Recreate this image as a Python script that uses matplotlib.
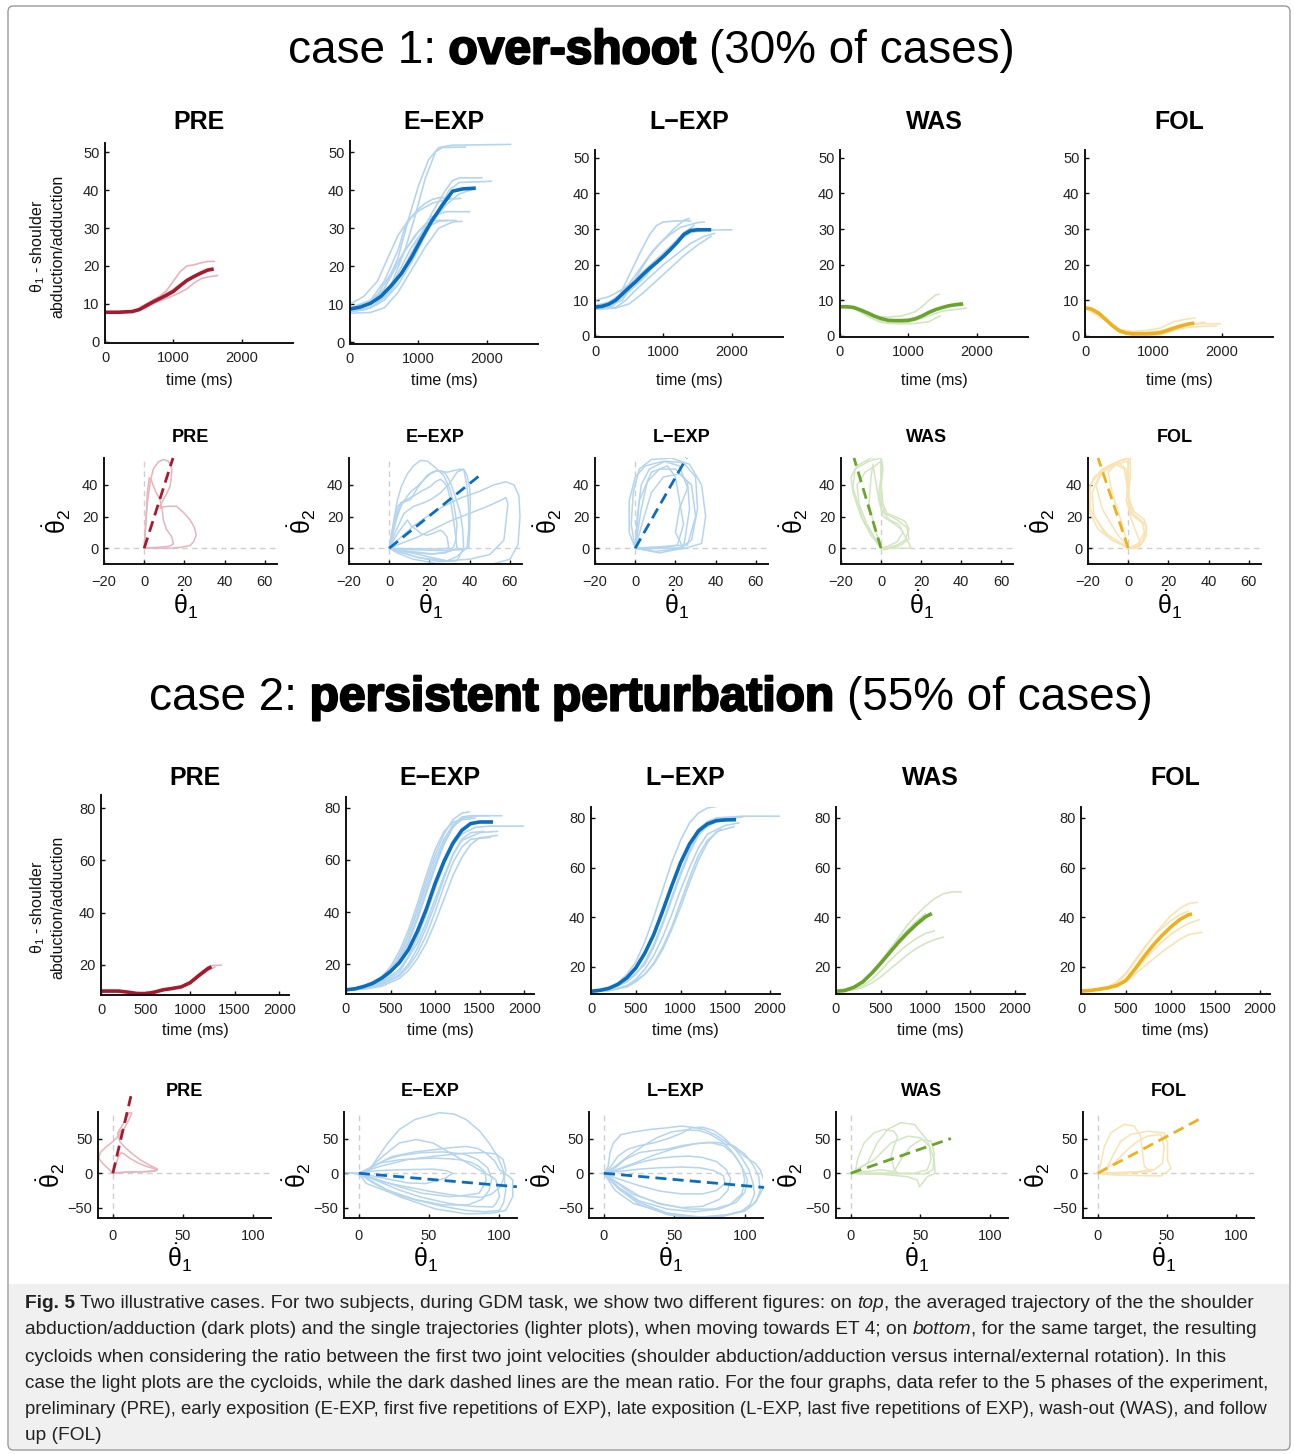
import matplotlib
matplotlib.use('Agg')
import matplotlib.pyplot as plt
from matplotlib.patches import FancyBboxPatch, Rectangle
import matplotlib.patheffects as pe

# ---------------------------------------------------------------- data
PHASES = ['PRE', 'E\u2212EXP', 'L\u2212EXP', 'WAS', 'FOL']
DARK = ['#a6192e', '#0a6ebd', '#0a6ebd', '#6aa42c', '#edb120']
LIGHT = ['#e8b4bc', '#b5d5ee', '#b5d5ee', '#d3e6c2', '#fae3b2']

# ---- case 1 : time courses (time ms, angle deg)
pre1_mean_t = [0, 200, 400, 500, 600, 700, 800, 900, 1000, 1100, 1200, 1300, 1400, 1500, 1590]
pre1_mean_y = [7.8, 7.8, 8.0, 8.5, 9.5, 10.5, 11.4, 12.3, 13.3, 14.8, 16.2, 17.2, 18.1, 18.9, 19.2]
pre1_light = [
    ([0, 400, 500, 600, 700, 800, 900, 1000, 1100, 1200, 1300, 1400, 1500, 1600],
     [7.8, 8.0, 8.8, 10.0, 11.0, 12.0, 13.5, 16.0, 18.5, 20.0, 20.3, 20.8, 21.2, 21.2]),
    ([0, 400, 500, 600, 700, 800, 900, 1000, 1100, 1200, 1300, 1400, 1500, 1650],
     [7.8, 8.0, 8.3, 9.0, 10.0, 10.8, 11.5, 12.2, 13.0, 14.0, 15.5, 16.6, 17.1, 17.5]),
    ([0, 400, 500, 600, 800, 1000, 1200, 1400, 1560],
     [7.8, 8.0, 8.6, 9.6, 11.8, 13.8, 16.4, 18.4, 19.3]),
]
eexp1_mean_t = [0, 150, 300, 450, 600, 750, 900, 1050, 1200, 1350, 1500, 1650, 1840]
eexp1_mean_y = [8.7, 9.2, 10.2, 12.0, 14.8, 18.0, 22.3, 27.3, 32.0, 36.0, 39.7, 40.3, 40.5]
eexp1_light = [
    ([0, 300, 500, 700, 850, 1000, 1150, 1300, 1500, 2350], [9, 10, 14, 22, 32, 41, 48, 51.2, 51.8, 52]),
    ([0, 200, 400, 600, 800, 950, 1100, 1250, 1350, 1690], [8.5, 9.5, 11, 15, 24, 33, 43, 50, 51.2, 51.3]),
    ([0, 200, 400, 600, 800, 1000, 1200, 1400, 1500, 1600, 1930], [8, 8.5, 10, 14, 20, 27, 34, 40, 42.5, 43.2, 43.2]),
    ([0, 300, 500, 700, 900, 1100, 1300, 1450, 1600, 2070], [8, 9, 11, 15, 21, 28, 35, 40, 42, 42.3]),
    ([0, 200, 400, 550, 700, 850, 1000, 1200, 1400, 1620], [10, 12, 16, 22, 28, 32, 34.5, 36.5, 37.5, 37.8]),
    ([0, 200, 400, 600, 800, 1000, 1200, 1400, 1750], [8.5, 9.5, 12.5, 18, 24, 29, 33, 34.3, 34.3]),
    ([0, 300, 500, 700, 900, 1100, 1300, 1425], [8, 9, 12, 18, 25, 30, 31.8, 32]),
    ([0, 300, 500, 700, 900, 1100, 1300, 1500, 1640], [7.6, 7.8, 9, 13, 19, 25, 30, 31.6, 31.8]),
    ([0, 300, 500, 700, 800, 900, 1000, 1100, 1200, 1300, 1500], [9, 11, 16, 24, 30, 33, 35, 36.5, 37.5, 38, 37.8]),
    ([0, 200, 400, 600, 800, 1000, 1200, 1400, 1600, 1800], [8.2, 8.5, 10, 13.5, 19, 25.5, 31.5, 36, 39, 40.2]),
    ([0, 300, 500, 650, 800, 950, 1100, 1250, 1400, 1550], [8.8, 10.5, 14, 19, 24, 28, 31, 32, 32, 32]),
]
lexp1_mean_t = [0, 100, 200, 300, 400, 500, 600, 700, 800, 900, 1000, 1100, 1200, 1300, 1400, 1500, 1700]
lexp1_mean_y = [8.1, 8.3, 8.9, 10.0, 11.8, 13.6, 15.3, 17.2, 19.0, 20.6, 22.3, 24.2, 26.2, 28.5, 29.6, 29.8, 29.8]
lexp1_light = [
    ([0, 200, 350, 500, 650, 800, 900, 1000, 1200, 1400], [8, 9, 11, 17, 23, 28.5, 31, 32, 32.3, 32.3]),
    ([0, 200, 400, 550, 700, 850, 1000, 1150, 1300, 1380], [8.5, 9.5, 12, 16, 20, 24, 27, 30, 32.5, 33]),
    ([0, 200, 400, 600, 800, 1000, 1200, 1400, 1600, 2000], [10, 11, 13, 16, 19.5, 23, 26.5, 29, 29.7, 29.8]),
    ([0, 300, 450, 600, 800, 1000, 1200, 1400, 1600, 1750], [7.5, 8, 10, 13, 16.5, 20, 23, 26, 28, 28.8]),
    ([0, 300, 500, 700, 900, 1100, 1300, 1500, 1700], [7.5, 7.8, 9, 12, 15.5, 19, 22.5, 25.5, 28]),
    ([0, 200, 400, 500, 650, 800, 950, 1100, 1250, 1500, 1600], [8, 8.5, 10, 13, 18, 22.5, 26, 28.5, 30.5, 31.8, 32]),
    ([0, 250, 400, 550, 700, 900, 1100, 1300, 1500], [7.8, 8.2, 11, 15, 18, 21.5, 25, 28.5, 30.2]),
    ([0, 300, 500, 700, 900, 1100, 1300, 1450], [8.3, 9.5, 12.5, 16, 20.5, 25, 29, 31]),
]
was1_mean_t = [0, 100, 200, 300, 400, 500, 600, 700, 800, 900, 1000, 1100, 1200, 1300, 1400, 1500, 1600, 1700, 1800]
was1_mean_y = [8.2, 8.2, 8.0, 7.3, 6.5, 5.6, 4.9, 4.4, 4.3, 4.3, 4.4, 4.8, 5.6, 6.6, 7.4, 8.0, 8.5, 8.8, 9.0]
was1_light = [
    ([0, 200, 300, 500, 700, 900, 1100, 1200, 1300, 1400, 1450], [8.2, 7.8, 7, 5.4, 5.3, 5.6, 6.8, 8.2, 10, 11.5, 11.7]),
    ([0, 200, 300, 500, 700, 900, 1100, 1300, 1400, 1470], [8.2, 7.6, 6.8, 4.8, 3.5, 3.4, 3.5, 4, 5, 5.6]),
    ([0, 200, 400, 600, 800, 1000, 1200, 1500, 1850], [8.2, 7.8, 5.5, 3.8, 3.6, 3.8, 5, 7, 7.8]),
    ([0, 200, 400, 600, 800, 1000, 1200, 1400, 1600, 1800], [8.0, 7.9, 6.2, 4.6, 4.2, 4.5, 5.8, 7.4, 8.3, 8.6]),
]
fol1_mean_t = [0, 100, 200, 300, 400, 500, 600, 700, 800, 900, 1000, 1100, 1200, 1300, 1400, 1500, 1600]
fol1_mean_y = [7.9, 7.5, 6.4, 4.7, 2.9, 1.5, 0.8, 0.6, 0.6, 0.6, 0.7, 0.9, 1.5, 2.2, 2.8, 3.3, 3.6]
fol1_light = [
    ([0, 300, 500, 700, 900, 1100, 1300, 1500, 1610], [7.9, 4.8, 1.8, 1.3, 1.5, 2.2, 4, 4.8, 5]),
    ([0, 300, 500, 700, 900, 1100, 1300, 1500, 1700, 1980], [7.9, 4.5, 1.4, 0.9, 1.0, 1.4, 2.5, 3.2, 3.4, 3.4]),
    ([0, 300, 500, 700, 900, 1100, 1300, 1500, 1700, 1920], [7.9, 4.3, 1.0, 0.3, 0.2, 0.6, 1.6, 2.4, 2.7, 2.8]),
    ([0, 300, 500, 700, 900, 1100, 1300, 1500, 1750], [7.9, 4.6, 1.2, 0.1, 0.0, 0.3, 1.5, 3.0, 3.9]),
]

# ---- case 2 : time courses
pre2_mean_t = [0, 100, 200, 300, 400, 500, 600, 700, 800, 900, 1000, 1100, 1200, 1240]
pre2_mean_y = [10.0, 10.0, 10.0, 9.6, 9.1, 9.0, 9.6, 10.5, 11.0, 11.6, 13.2, 16.0, 18.6, 19.3]
pre2_light = [
    ([0, 200, 400, 600, 700, 800, 900, 1000, 1100, 1200, 1250, 1350], [10, 10, 9.2, 9.8, 10.6, 11.2, 11.6, 13.5, 16.5, 19.2, 19.8, 19.9]),
    ([0, 200, 400, 600, 800, 900, 1000, 1100, 1200, 1280], [10.2, 10.1, 9.0, 9.6, 11.0, 11.8, 13.0, 15.5, 18.0, 19.2]),
]
eexp2_mean_t = [0, 100, 200, 300, 400, 500, 600, 700, 800, 900, 1000, 1100, 1200, 1300, 1400, 1500, 1650]
eexp2_mean_y = [10.1, 10.5, 11.4, 12.6, 14.6, 17.2, 20.6, 25.5, 32.5, 41.0, 51.0, 59.5, 66.5, 71.4, 74.0, 74.6, 74.6]
eexp2_light = [
    ([0, 200, 400, 500, 600, 700, 800, 900, 1000, 1100, 1200, 1300, 1380], [10, 11, 14, 17.5, 23, 31, 41, 52, 62, 70, 75.5, 78, 78.5]),
    ([0, 200, 400, 500, 600, 700, 800, 900, 1000, 1100, 1200, 1300, 1400, 1600], [10, 11.2, 14.5, 18, 23.5, 31, 40, 50, 60, 68, 73.5, 76.5, 77, 77]),
    ([0, 200, 400, 500, 600, 700, 800, 900, 1000, 1100, 1200, 1300, 1500, 1750], [10, 11, 13.5, 16.5, 21, 28, 37, 47, 57, 66, 72.5, 76, 77, 77]),
    ([0, 200, 400, 600, 700, 800, 900, 1000, 1100, 1200, 1300, 1450, 1600, 1990], [10, 10.8, 13, 18, 23, 30, 39, 49, 58, 65.5, 70, 72.5, 73, 73]),
    ([0, 200, 400, 600, 700, 800, 900, 1000, 1100, 1200, 1300, 1500, 1700], [10, 10.5, 12, 16, 20, 26, 34, 43, 53, 62, 67.5, 70.5, 71]),
    ([0, 200, 400, 600, 700, 800, 900, 1000, 1100, 1200, 1300, 1400, 1620], [10, 10.5, 12, 15.5, 19, 24, 31, 40, 50, 59, 65, 68, 68.7]),
    ([0, 200, 400, 500, 600, 700, 800, 900, 1000, 1100, 1200, 1300], [10, 11.5, 15, 19, 25, 33, 43, 54, 64, 71, 74.5, 75.7]),
    ([0, 200, 400, 500, 600, 700, 800, 900, 1000, 1100, 1200, 1300, 1450], [10, 11, 14, 17, 22, 29, 38, 48, 58, 67, 73, 75.5, 76]),
    ([0, 200, 400, 600, 800, 900, 1000, 1100, 1200, 1300, 1400, 1550], [10, 10.6, 12.5, 17, 28, 36, 45, 54, 62, 68, 70.5, 71]),
    ([0, 200, 400, 600, 700, 800, 900, 1000, 1100, 1200, 1300, 1400, 1500, 1700], [10, 10.3, 11.5, 14.5, 17.5, 22, 28, 36, 45, 54, 61, 66, 68.5, 69.5]),
]
lexp2_mean_t = [0, 100, 200, 300, 400, 500, 600, 700, 800, 900, 1000, 1100, 1200, 1300, 1400, 1500, 1620]
lexp2_mean_y = [10.2, 10.6, 11.4, 13.0, 15.6, 19.6, 25.5, 33.0, 42.5, 52.5, 62.0, 69.5, 74.8, 77.6, 78.9, 79.2, 79.3]
lexp2_light = [
    ([0, 200, 300, 400, 500, 600, 700, 800, 900, 1000, 1100, 1200, 1300, 1460], [10, 11.5, 13.5, 17, 22, 30, 40, 51, 62, 71, 78, 82, 84, 85]),
    ([0, 200, 300, 400, 500, 600, 700, 800, 900, 1000, 1100, 1200, 1300, 1400, 1700, 2130], [10, 11, 12.5, 15, 19, 25, 33, 43, 53, 62, 70, 75.5, 78.5, 80, 80.7, 80.7]),
    ([0, 200, 400, 500, 600, 700, 800, 900, 1000, 1100, 1200, 1300, 1500, 1700], [10, 11, 14, 17, 22, 29, 38, 48, 58, 67, 73.5, 77.5, 79.5, 80.5]),
    ([0, 200, 400, 500, 600, 700, 800, 900, 1000, 1100, 1200, 1300, 1500, 1650], [10, 10.5, 12.5, 15, 19, 24.5, 32, 41, 51, 60, 68, 73.5, 77, 78]),
    ([0, 200, 400, 500, 600, 700, 800, 900, 1000, 1100, 1200, 1300, 1450], [10, 10.5, 12, 14, 17, 21.5, 28, 36, 46, 56, 65, 71, 75.5]),
    ([0, 200, 400, 600, 700, 800, 900, 1000, 1100, 1200, 1300, 1400, 1500], [10, 11, 14, 21, 28, 37, 47, 57, 66, 73, 77, 79, 80]),
    ([0, 200, 400, 600, 700, 800, 900, 1000, 1100, 1200, 1300, 1400, 1600], [10, 10.5, 12, 17, 21, 27, 35, 44, 54, 63, 70, 74.5, 76.5]),
    ([0, 200, 400, 500, 600, 700, 800, 900, 1000, 1100, 1200, 1400, 1600], [10, 11.5, 15.5, 19.5, 25.5, 33, 42, 52, 61.5, 69, 74.5, 78.5, 79.5]),
]
was2_mean_t = [0, 100, 200, 300, 400, 500, 600, 700, 800, 900, 1000, 1070]
was2_mean_y = [10.2, 10.5, 11.8, 14.0, 17.5, 21.5, 25.8, 30.0, 33.8, 37.2, 40.2, 41.5]
was2_light = [
    ([0, 200, 300, 400, 500, 600, 700, 800, 900, 1000, 1100, 1200, 1300, 1400], [10.2, 11.5, 14, 17.5, 22, 27, 32, 37, 41, 44.5, 47.5, 49.5, 50.2, 50.2]),
    ([0, 200, 300, 400, 500, 600, 700, 800, 900, 1000, 1100], [10.2, 11, 12.5, 15, 18.5, 22.5, 26, 29, 31.5, 33.5, 34.5]),
    ([0, 200, 300, 400, 500, 600, 700, 800, 900, 1000, 1100, 1200], [10.2, 10.8, 11.8, 13.5, 16, 19, 22, 25, 27.5, 29.5, 31, 32]),
    ([0, 200, 300, 400, 500, 600, 700, 800, 900, 1000], [10.2, 12, 14.5, 18, 22.5, 27, 31, 35, 38.5, 41.5]),
]
fol2_mean_t = [0, 100, 200, 300, 400, 500, 600, 700, 800, 900, 1000, 1100, 1200, 1240]
fol2_mean_y = [10.3, 10.5, 11.0, 11.6, 12.5, 14.5, 19.0, 24.0, 28.5, 32.5, 36.0, 39.0, 41.0, 41.3]
fol2_light = [
    ([0, 200, 300, 400, 500, 600, 700, 800, 900, 1000, 1100, 1200, 1300], [10.3, 11, 11.8, 13.5, 17, 22, 27, 32, 36.5, 40.5, 43.5, 45.5, 46]),
    ([0, 200, 300, 400, 500, 600, 700, 800, 900, 1000, 1100, 1200, 1320], [10.3, 10.8, 11.3, 12.5, 15, 18.5, 22.5, 26.5, 30, 33, 35.5, 37.5, 39]),
    ([0, 200, 300, 400, 500, 600, 700, 800, 900, 1000, 1100, 1200, 1350], [10.3, 10.8, 11.2, 12.2, 14, 17, 20, 23, 26, 28.5, 31, 33, 34]),
    ([0, 200, 300, 400, 500, 600, 700, 800, 900, 1000, 1100, 1200], [10.3, 11, 12, 14, 17.5, 22.5, 27.5, 32, 35.5, 38.5, 41, 42.5]),
]

# ---- case 1 : cycloids (theta1_dot, theta2_dot) and mean-ratio line end
pre1_loops = [
    ([0, 0.5, 1.5, 3, 4.5, 7, 9.5, 12, 13.7, 13.5, 12.8, 11, 9.5, 8, 7.8, 9, 12, 16, 20, 22.8, 25, 25.8, 24.5, 22.8, 18, 12.8, 6, 0],
     [0, 12, 28, 42, 50, 54.5, 56, 55, 50, 45, 39, 34, 30.7, 27, 25, 26, 26.5, 26.5, 22, 17.8, 13, 8.2, 4, 1.7, 0.5, 0, 0, 0]),
    ([0, 0.8, 1.5, 2.5, 3.5, 4.5, 6, 7.8, 9, 9.5, 11, 13.7, 14.5, 13, 11, 6, 0],
     [0, 15, 35, 44.5, 43, 39.4, 35, 30.7, 24, 17.8, 12, 7.1, 2.8, 1.5, 1, 0.5, 0]),
]
pre1_ratio = (14.3, 57)
eexp1_loops = [
    ([0, 5, 12, 20, 27, 36, 45, 52, 58, 62, 64.5, 65, 64, 60, 50, 38, 25, 12, 4, 0],
     [0, 6, 14, 21, 26.5, 32, 36, 40, 42, 40, 33, 20, 2, -7, -10.5, -11.5, -10, -7, -3, 0]),
    ([0, 6, 14, 22, 30, 40, 48, 55, 58, 59, 57, 50, 40, 28, 15, 5, 0],
     [0, 3, 7, 12, 17, 22, 26, 30, 32, 28, 5, -4, -7, -8, -6, -2.5, 0]),
    ([0, 1, 2.3, 4, 6, 9, 12, 15.5, 19, 22, 27, 30, 32, 33.7, 33, 32, 28, 20, 10, 3, 0],
     [0, 8, 17.8, 30, 39, 47, 52, 55.5, 55, 52, 46, 38, 28.6, 15, 5, 0.6, -3, -3.7, -2.5, -1, 0]),
    ([0, 2, 4, 7, 10.6, 14, 18.8, 22, 25.5, 28, 30.4, 33, 35.4, 36.5, 37, 35, 33.7, 25, 13.9, 5, 0],
     [0, 12, 26.5, 29, 30.7, 38, 46, 48.5, 49, 47, 41.5, 32, 22, 12, 0.6, -5, -8, -8.5, -5.8, -2, 0]),
    ([0, 3, 7.3, 12.2, 17, 21, 25.5, 30, 33.7, 37, 38.7, 39.5, 39.5, 38.7, 34, 28.8, 18, 5.6, 0],
     [0, 10, 22, 26.5, 28.6, 31, 35, 41, 48, 50, 39, 25, 11.4, 0.6, -5, -8, -5, -1.5, 0]),
    ([0, 4, 9, 11, 13.9, 16, 18.8, 22, 25.5, 27, 28.8, 29.6, 25, 18.8, 8, 0],
     [0, 9, 17.8, 14, 11.4, 9, 8.2, 9.5, 11.4, 10, 7, 0, -0.5, -0.4, -0.3, 0]),
    ([0, 2, 5.6, 9, 12.2, 16, 20.5, 23, 25.5, 27, 28.8, 30.5, 32, 33, 33.7, 30, 22, 10, 0],
     [0, 14, 28.6, 31, 33, 36, 39, 42, 43.6, 42, 39, 30, 17.8, 8, 0, -2, -3.7, -2, 0]),
    ([0, 2, 4, 6, 9, 11, 13.9, 17, 20.5, 23.8, 26, 28.8, 32, 35.4, 37.5, 38.7, 40, 40.3, 40, 39.5, 35, 25.5, 12, 0],
     [0, 10, 20, 27, 33, 36, 39, 43, 47, 49, 48.6, 48, 49, 50, 49, 46, 38, 28.6, 12, 0, -1, -1.5, -1, 0]),
]
eexp1_ratio = (45, 46)
lexp1_loops = [
    ([0, -2, -1, 2, 8, 18, 27, 33, 35, 33, 25, 10, 0], [0, 15, 35, 50, 56, 57, 53, 40, 20, 3, 0, -2, 0]),
    ([0, 1, 3, 7, 15, 24, 30, 31, 28, 22, 0], [0, 20, 40, 50, 55, 54, 45, 25, 5, 0, 0]),
    ([0, 3, 6, 12, 20, 26, 27, 25, 24, 12, 0], [0, 25, 42, 50, 50, 42, 25, 8, 0, -3, 0]),
    ([0, -3, -3, 0, 5, 14, 22, 26, 22, 20, 24, 0], [0, 10, 30, 45, 52, 55, 52, 38, 25, 10, 0, 0]),
    ([0, 4, 8, 14, 22, 28, 30, 26, 0], [0, 18, 35, 45, 47, 40, 20, 2, 0]),
    ([0, 2, 8, 16, 20, 22, 24, 21, 5, 0], [0, 30, 48, 52, 45, 30, 15, 2, -1, 0]),
]
lexp1_ratio = (25.5, 57)
was1_loops = [
    ([0, -5, -10, -14, -15, -12, -5, 0, 1, 0, 1, 3, 7, 12, 14, 12, 8, 3, 0],
     [0, 8, 20, 35, 45, 52, 57, 58, 50, 40, 28, 22, 20, 17, 12, 5, 2, 0, 0]),
    ([0, -7, -11, -12, -8, -3, 0, 0, -1, 0, 4, 9, 11, 8, 3, 0],
     [0, 15, 28, 40, 48, 52, 55, 45, 35, 25, 18, 15, 10, 4, 1, 0]),
    ([0, -3, -6, -5, -4, -3, -1, 1, 6, 10, 14, 15, 5, 0],
     [0, 12, 28, 45, 53, 45, 30, 20, 16, 12, 3, 0, 0, 0]),
    ([0, -9, -14, -13, -6, 0, 0, 0, 2, 8, 13, 14, 10, 2, 0],
     [0, 18, 38, 50, 55, 57, 48, 30, 22, 18, 13, 6, 2, -1, 0]),
]
was1_ratio = (-13.5, 57)
fol1_loops = [
    ([0, -8, -15, -19, -20, -17, -10, -3, 0, 0, -1, 1, 5, 9, 9, 6, 3, 0],
     [0, 5, 12, 22, 35, 45, 52, 56, 57, 45, 30, 22, 18, 15, 8, 2, 0, 0]),
    ([0, -10, -17, -18, -14, -6, 0, 0, 0, 3, 7, 8, 5, 0],
     [0, 8, 20, 35, 47, 53, 55, 42, 28, 20, 16, 10, 3, 0]),
    ([0, -6, -13, -16, -12, -5, -1, 0, 2, 6, 9, 8, 5, 0],
     [0, 10, 25, 40, 50, 54, 50, 35, 22, 18, 14, 5, 0, 0]),
    ([0, -12, -19, -19, -13, -4, 1, 1, 0, 3, 8, 9, 7, 3, 0],
     [0, 10, 25, 40, 50, 55, 57, 45, 32, 23, 18, 12, 4, 0, 0]),
    ([0, -3, -8, -10, -6, -2, 0, 1, 4, 6, 2, 0],
     [0, 15, 35, 48, 53, 50, 35, 20, 10, 3, 0, 0]),
]
fol1_ratio = (-15, 57)

# ---- case 2 : cycloids
pre2_loops = [
    ([0, -4, -8, -10, -9, -5, 0, 5, 9, 12, 13.5, 12.5, 10.5, 8, 5, 3.5, 5, 7, 6, 3.5, 5, 9, 14, 20, 26, 30, 32, 31, 26, 18, 10, 4, 0],
     [0, 8, 16, 22, 30, 38, 46, 56, 68, 80, 87, 89, 84, 74, 64, 58, 54, 58, 62, 58, 46, 37, 28, 19, 12, 8, 6, 3.5, 2.5, 2, 1.5, 1, 0]),
    ([0, 2, 4, 6, 8, 12, 18, 24, 29, 31, 30, 24, 16, 8, 3, 0],
     [0, 12, 24, 30, 28, 22, 15, 10, 7, 5.5, 3.5, 2.5, 2, 1.5, 0.5, 0]),
]
pre2_ratio = (12.9, 112)
eexp2_loops = [
    ([-10, -5, 0, 5, 7.6, 12.4, 20, 29, 40, 57.6, 68, 76.7, 86, 93, 99, 103, 105, 103.5, 100.5, 90, 76.7, 60, 41, 25, 12, 5.2, 0],
     [1, 0.5, 0, 3, 5, 19.6, 42, 63.7, 78, 88, 86, 78, 62, 44, 25, 5, -24.5, -42, -54, -56, -54, -48, -39, -30, -20, -14.7, 0]),
    ([0, 8, 17, 29, 41, 53, 69.5, 86, 95, 98, 100.5, 98, 95.7, 80, 64.8, 45, 29, 12, 0],
     [0, 8, 24.5, 44, 49, 44, 24.5, 5, -5, -10, -34, -44, -49, -48, -44, -35, -24.5, -10, 0]),
    ([0, 10, 24, 40, 53, 65, 76.7, 85, 91, 97, 100.5, 107, 110, 110, 107, 105, 95, 76.7, 55, 29, 10, 0],
     [0, 9.8, 24.5, 31, 34, 37, 39, 36, 29, 18, 5, -4, -10, -34, -46, -54, -58, -59, -52, -34, -14, 0]),
    ([0, 7, 14.8, 29, 41, 53, 65, 71.9, 80, 86, 90, 91, 88, 86, 76, 64.8, 45, 29, 12, 0],
     [0, 6, 14.7, 19.6, 21, 22, 21, 19.6, 16, 9.8, 2, -10, -22, -29, -32, -34, -29, -19.6, -8, 0]),
    ([0, 5, 15, 29, 41, 53, 62, 67, 64, 62, 55, 48, 35, 20, 0],
     [0, 2.5, 4, 5, 5.5, 6, 4, 0, -4, -7, -11, -15, -14, -8, 0]),
    ([-10, -5, 0, 10, 20, 35, 50, 65, 78, 88, 95, 101, 104, 105, 103, 98, 90, 75, 55, 35, 15, 0],
     [1, 0.5, -2, -8, -14, -20, -26, -31, -34, -35, -30, -20, -5, 5, 20, 28, 30, 29, 25, 20, 10, 0]),
    ([0, 6, 12, 20, 30, 45, 60, 75, 85, 92, 95, 93, 88, 78, 60, 40, 20, 8, 0],
     [0, 4, 12, 20, 26, 30, 31, 28, 20, 8, -8, -25, -38, -46, -46, -38, -24, -10, 0]),
]
eexp2_ratio = (112.9, -19.6)
lexp2_loops = [
    ([0, 3, 4.3, 6.7, 12, 21, 33, 45, 55, 62, 71, 79, 86, 93, 100, 107.7, 111, 113.7, 113, 110, 106, 100.5, 88, 69, 45, 21, 8, 0],
     [0, 9.8, 30, 44, 56, 60, 63.7, 66, 68.6, 67, 63.7, 56, 46.6, 36, 24.5, 14, 5, -10, -22, -34, -45, -54, -60, -63.7, -58, -44, -25, 0]),
    ([0, 5, 10, 17, 25, 35, 45, 55, 62, 70, 78, 85, 92, 98, 103, 106, 107, 104, 98, 85, 65, 45, 25, 10, 0],
     [0, 10, 25, 35, 40, 44, 50, 58, 66, 67, 62, 52, 38, 22, 5, -15, -30, -45, -55, -62, -66, -60, -45, -22, 0]),
    ([0, 8, 15, 25, 35, 45, 55, 65, 75, 85, 92, 98, 100, 98, 90, 78, 60, 40, 20, 8, 0],
     [0, 8, 20, 30, 33, 35, 40, 43, 45, 40, 28, 10, -10, -30, -45, -52, -52, -44, -30, -12, 0]),
    ([0, 10, 20, 30, 40, 50, 60, 70, 80, 87, 90, 88, 82, 70, 55, 40, 25, 10, 0],
     [0, 5, 12, 18, 22, 24, 25, 23, 17, 5, -8, -25, -38, -48, -50, -45, -33, -14, 0]),
    ([0, 12, 25, 40, 55, 68, 78, 85, 86, 80, 70, 55, 40, 25, 10, 0],
     [0, 3, 6, 8, 9, 8, 4, -4, -15, -25, -30, -30, -26, -18, -8, 0]),
    ([0, 10, 22, 35, 50, 65, 80, 92, 100, 106, 110, 111, 108, 100, 85, 65, 45, 25, 10, 0],
     [0, 6, 15, 26, 36, 43, 45, 40, 28, 12, -5, -25, -42, -55, -62, -64, -58, -42, -20, 0]),
    ([0, 8, 18, 28, 38, 48, 58, 68, 76, 84, 90, 95, 99, 102, 100, 94, 82, 64, 45, 25, 10, 0],
     [0, 10, 26, 40, 52, 60, 63, 62, 56, 46, 34, 20, 5, -10, -28, -42, -52, -56, -52, -40, -20, 0]),
]
lexp2_ratio = (113.7, -20.6)
was2_loops = [
    ([0, 3.6, 4.8, 9.6, 16.8, 24, 31, 33.7, 31, 29, 31, 33.7, 16.8, 0],
     [0, 4.9, 19.6, 44, 58.8, 63.7, 61, 53, 39, 24.5, 7, 0, -1, 0]),
    ([0, 12, 19, 26.4, 36, 45.7, 55, 60, 60.6, 55, 50.5, 49.3, 48, 41, 20, 0],
     [0, 14.7, 44, 63.7, 73.5, 71, 48, 19.6, 0, -5, -17, -19.6, -10, -5, -1, 0]),
    ([0, 16.8, 29, 41, 50.5, 56.5, 57.7, 55, 45.7, 20, 0],
     [0, 19.6, 44, 53.9, 51.5, 39, 19.6, 5, 0, 0, 0]),
    ([0, 21.6, 31, 36, 43, 50.5, 57.7, 60, 59, 53, 25, 0],
     [0, 5, 2.5, 19.6, 39, 49, 46.6, 29.4, 5, -1, -0.5, 0]),
]
was2_ratio = (72, 50.5)
fol2_loops = [
    ([0, 2.4, 4.8, 9.6, 19, 26.4, 31, 32.5, 33.7, 38.5, 12, 0],
     [0, 14.7, 39, 58.8, 71, 68.6, 53.9, 29.4, 9.8, 2.5, -1, 0]),
    ([0, 7.2, 12, 16.8, 24, 36, 48, 50.5, 50.5, 53, 50.5, 45.7, 12, 0],
     [0, 9.8, 29.4, 46.6, 56.4, 61, 58.8, 44, 19.6, 7, 2.5, -4, -2.5, 0]),
    ([0, 12, 21.6, 29, 36, 45.7, 48, 46.9, 40.9, 36, 31, 0],
     [0, 14.7, 34.3, 46.6, 53.9, 56.4, 39, 14.7, 5, 5, 2.5, 0]),
]
fol2_ratio = (75.7, 80.9)

case1_time = [(pre1_mean_t, pre1_mean_y, pre1_light), (eexp1_mean_t, eexp1_mean_y, eexp1_light),
              (lexp1_mean_t, lexp1_mean_y, lexp1_light), (was1_mean_t, was1_mean_y, was1_light),
              (fol1_mean_t, fol1_mean_y, fol1_light)]
case2_time = [(pre2_mean_t, pre2_mean_y, pre2_light), (eexp2_mean_t, eexp2_mean_y, eexp2_light),
              (lexp2_mean_t, lexp2_mean_y, lexp2_light), (was2_mean_t, was2_mean_y, was2_light),
              (fol2_mean_t, fol2_mean_y, fol2_light)]
case1_phase = [(pre1_loops, pre1_ratio), (eexp1_loops, eexp1_ratio), (lexp1_loops, lexp1_ratio),
               (was1_loops, was1_ratio), (fol1_loops, fol1_ratio)]
case2_phase = [(pre2_loops, pre2_ratio), (eexp2_loops, eexp2_ratio), (lexp2_loops, lexp2_ratio),
               (was2_loops, was2_ratio), (fol2_loops, fol2_ratio)]

caption_lines = [
    [("Fig. 5", 'b'), (" Two illustrative cases. For two subjects, during GDM task, we show two different figures: on ", 'n'),
     ("top", 'i'), (", the averaged trajectory of the the shoulder", 'n')],
    [("abduction/adduction (dark plots) and the single trajectories (lighter plots), when moving towards ET 4; on ", 'n'),
     ("bottom", 'i'), (", for the same target, the resulting", 'n')],
    [("cycloids when considering the ratio between the first two joint velocities (shoulder abduction/adduction versus internal/external rotation). In this", 'n')],
    [("case the light plots are the cycloids, while the dark dashed lines are the mean ratio. For the four graphs, data refer to the 5 phases of the experiment,", 'n')],
    [("preliminary (PRE), early exposition (E-EXP, first five repetitions of EXP), late exposition (L-EXP, last five repetitions of EXP), wash-out (WAS), and follow", 'n')],
    [("up (FOL)", 'n')],
]
caption_right = [1257, 1273, 1264, 1275, 1270, None]

# ---------------------------------------------------------------- layout
W, H = 1294, 1454
plt.rcParams['font.family'] = ['Liberation Sans', 'DejaVu Sans']
plt.rcParams['mathtext.fontset'] = 'custom'
plt.rcParams['mathtext.rm'] = 'Liberation Sans'
plt.rcParams['mathtext.it'] = 'Liberation Sans'
plt.rcParams['mathtext.bf'] = 'Liberation Sans:bold'
fig = plt.figure(figsize=(W / 100, H / 100), dpi=100)
fig.patch.set_facecolor('white')


def fy(py):
    return 1 - py / H


def add_ax(l, t, r, b):
    ax = fig.add_axes([l / W, 1 - b / H, (r - l) / W, (b - t) / H])
    for s in ('top', 'right'):
        ax.spines[s].set_visible(False)
    for s in ('left', 'bottom'):
        ax.spines[s].set_linewidth(1.4)
        ax.spines[s].set_color('#111111')
    ax.tick_params(direction='in', length=3, width=1, labelsize=10.5, colors='#111111', labelcolor='#222222')
    ax.set_facecolor('none')
    return ax


# outer frame and caption background
fig.patches.append(FancyBboxPatch((8 / W, fy(1450)), (1282) / W, (1444) / H,
                                  boxstyle='round,pad=0,rounding_size=0.004', transform=fig.transFigure,
                                  facecolor='none', edgecolor='#9a9a9a', lw=1.0))
fig.patches.append(Rectangle((9 / W, fy(1449)), 1280 / W, (1449 - 1284) / H, transform=fig.transFigure,
                             facecolor='#f0f0f0', edgecolor='none', zorder=-1))

# time panels
time_rects1 = [(105, 143, 293, 343), (350, 141, 538, 344), (595, 150, 783, 337), (840, 150, 1028, 337), (1085, 150, 1273, 337)]
time_ylims1 = [(-0.3, 52.4), (-0.5, 52.9), (-0.3, 52.2), (-0.3, 52.2), (-0.3, 52.2)]
time_rects2 = [(101, 795, 289, 995), (346, 797, 534, 994), (591, 807, 780, 994), (836, 807, 1025, 994), (1081, 807, 1270, 994)]
time_ylims2 = [(8.5, 85), (8.5, 84.2), (9.1, 84.4), (9.1, 84.4), (9.1, 84.4)]
phase_rects1 = [(104, 458, 277, 564), (349, 458, 522, 564), (595, 458, 768, 564), (841, 458, 1013, 564), (1088, 458, 1261, 564)]
phase_rects2 = [(98, 1112, 271, 1218), (344, 1112, 517, 1218), (589, 1112, 763, 1218), (836, 1112, 1008, 1218), (1083, 1112, 1254, 1218)]

TH1 = r'$\dot{\mathrm{\theta}}_{1}$'
TH2 = r'$\dot{\mathrm{\theta}}_{2}$'


def draw_time(rects, ylims, data, xmax, xticks, yticks, title_y, xlabel_y, ylab_y):
    for i, (r, yl, (mt, my, light)) in enumerate(zip(rects, ylims, data)):
        ax = add_ax(*r)
        for lt, ly in light:
            ax.plot(lt, ly, color=LIGHT[i], lw=1.2, solid_joinstyle='round', solid_capstyle='round')
        ax.plot(mt, my, color=DARK[i], lw=2.6, solid_joinstyle='round', solid_capstyle='butt')
        ax.set_xlim(0, xmax)
        ax.set_ylim(*yl)
        ax.set_xticks(xticks)
        ax.set_yticks(yticks)
        ax.tick_params(axis='x', pad=6)
        ax.tick_params(axis='y', pad=4)
        cx = (r[0] + r[2]) / 2 / W
        fig.text(cx, fy(title_y), PHASES[i], ha='center', va='center', fontsize=18, fontweight='bold')
        fig.text(cx, fy(xlabel_y), 'time (ms)', ha='center', va='center', fontsize=11.5, color='#111111')
        if i == 0:
            fig.text(38 / W, fy(ylab_y), r'$\mathrm{\theta}_{1}$ - shoulder', rotation=90, ha='center', va='center',
                     fontsize=11.5, color='#111111')
            fig.text(58 / W, fy(ylab_y), 'abduction/adduction', rotation=90, ha='center', va='center',
                     fontsize=11.5, color='#111111')


def draw_phase(rects, data, xlim, ylim, xticks, yticks, title_y, xlabel_y):
    for i, (r, (loops, ratio)) in enumerate(zip(rects, data)):
        ax = add_ax(*r)
        ax.axhline(0, color='#cfcfcf', lw=1.0, dashes=(4, 3), zorder=1)
        ax.axvline(0, color='#cfcfcf', lw=1.0, dashes=(4, 3), zorder=1)
        for lx, ly in loops:
            ax.plot(lx, ly, color=LIGHT[i], lw=1.1, solid_joinstyle='round', zorder=2)
        ax.plot([0, ratio[0]], [0, ratio[1]], color=DARK[i], lw=2.0, dashes=(4, 2.2), zorder=3, clip_on=False)
        ax.set_xlim(*xlim)
        ax.set_ylim(*ylim)
        ax.set_xticks(xticks)
        ax.set_yticks(yticks)
        ax.tick_params(axis='x', pad=8)
        ax.tick_params(axis='y', pad=4)
        cx = (r[0] + r[2]) / 2
        fig.text(cx / W, fy(title_y), PHASES[i], ha='center', va='center', fontsize=13, fontweight='bold')
        fig.text((cx - 5) / W, fy(xlabel_y), TH1, ha='center', va='center', fontsize=18)
        fig.text((r[0] - 47) / W, fy((r[1] + r[3]) / 2 + 10), TH2, rotation=90,
                 ha='center', va='center', fontsize=18)


draw_time(time_rects1, time_ylims1, case1_time, 2750, [0, 1000, 2000], [0, 10, 20, 30, 40, 50], 122, 380, 246)
draw_phase(phase_rects1, case1_phase, (-20, 66), (-10, 57), [-20, 0, 20, 40, 60], [0, 20, 40], 437, 605)
draw_time(time_rects2, time_ylims2, case2_time, 2110, [0, 500, 1000, 1500, 2000], [20, 40, 60, 80], 778, 1031, 907)
draw_phase(phase_rects2, case2_phase, (-10.6, 113), (-65, 89), [0, 50, 100], [-50, 0, 50], 1091, 1258)

# ---------------------------------------------------------------- rich text helpers
renderer = fig.canvas.get_renderer()


def text_width(s, **kw):
    kw = {k: v for k, v in kw.items() if k != 'path_effects'}
    t = fig.text(0, 0, s, **kw)
    w = t.get_window_extent(renderer).width
    t.remove()
    return w


def layout(pieces):
    out = []
    for s, kw in pieces:
        core = s.strip(' ')
        lead = len(s) - len(s.lstrip(' '))
        trail = len(s) - len(s.rstrip(' '))
        sp = text_width('x x', **kw) - text_width('xx', **kw)
        out.append((core, kw, lead * sp, text_width(core, **kw) if core else 0, trail * sp))
    return out


def rich_line(pieces, x_px, y_px, ha='left'):
    widths = layout(pieces)
    total = sum(a + b + c for _, _, a, b, c in widths)
    x = x_px - (total / 2 if ha == 'center' else 0)
    for core, kw, a, b, c in widths:
        x += a
        if core:
            fig.text(x / W, fy(y_px), core, ha='left', va='center_baseline', **kw)
        x += b + c


big_n = dict(fontsize=33, family=['Liberation Sans', 'DejaVu Sans'], color='black')
big_b = dict(fontsize=34.5, family=['Liberation Sans', 'DejaVu Sans'], fontweight='bold', color='black',
             path_effects=[pe.withStroke(linewidth=1.6, foreground='black')])
rich_line([("case 1: ", big_n), ("over-shoot", big_b), (" (30% of cases)", big_n)], 651, 46, ha='center')
rich_line([("case 2: ", big_n), ("persistent perturbation", big_b), (" (55% of cases)", big_n)], 651, 693, ha='center')


def cap_style(k, size):
    base = dict(fontsize=size, color='#222222')
    if k == 'b':
        base['fontweight'] = 'bold'
    if k == 'i':
        base['style'] = 'italic'
    return base


BASE = 13.8
cap_y = [1302, 1328, 1355, 1381, 1408, 1434]
for line, yy, right in zip(caption_lines, cap_y, caption_right):
    size = BASE
    if right is not None:
        w = sum(a + b + c for _, _, a, b, c in layout([(s, cap_style(k, BASE)) for s, k in line]))
        size = min(BASE, BASE * (right - 25) / w)
    rich_line([(s, cap_style(k, size)) for s, k in line], 25, yy)

fig.savefig('out.png', dpi=100, facecolor='white')
